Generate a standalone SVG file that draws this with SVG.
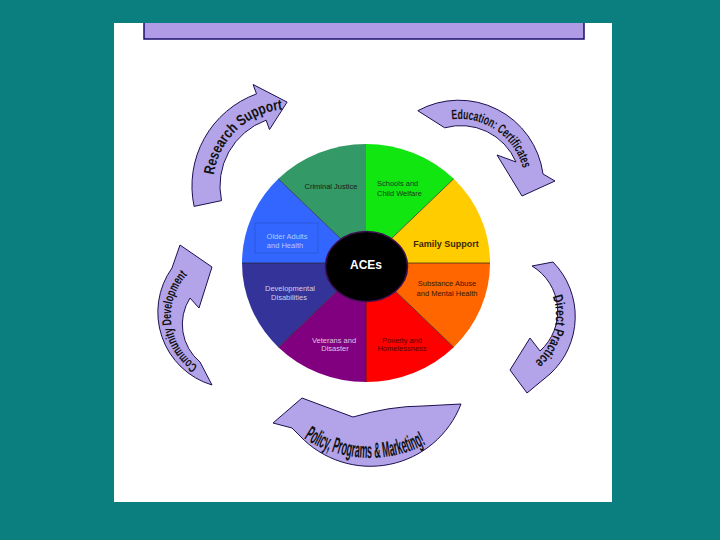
<svg xmlns="http://www.w3.org/2000/svg" width="720" height="540" viewBox="0 0 720 540">
<style>
.arrow{fill:#b3a4e9;stroke:#1c1050;stroke-width:1}
.atext{font-family:"Liberation Sans",Arial,sans-serif;font-weight:bold;fill:#111}
.rad{stroke:#222;stroke-width:0.7}
.lbl{font-family:"Liberation Sans",Arial,sans-serif;font-size:7.5px;text-anchor:middle}
.lbl-start{font-family:"Liberation Sans",Arial,sans-serif;font-size:7.5px;text-anchor:start}
</style>
<defs>
<path id="tp-rs" d="M213.4,177.9 A77,77 0 0 1 287.3,109.1"/>
<path id="tp-ec" d="M449.8,119.6 A66,66 0 0 1 524,173.5"/>
<path id="tp-dp" d="M552.4,295.5 A60,60 0 0 1 530.4,365.2"/>
<path id="tp-cd" d="M202.8,369 A60,60 0 0 1 194.1,268.7"/>
<path id="tp-pp" d="M300.6,436.1 A121,121 0 0 0 434.1,439.6"/>
</defs>
<rect x="0" y="0" width="720" height="540" fill="#0b7e80"/>
<rect x="114" y="23" width="498" height="479" fill="#ffffff"/>
<rect id="title-bar" x="144" y="12" width="440" height="27" fill="#b09ce6" stroke="#1a0e6e" stroke-width="1.5"/>
<rect x="0" y="0" width="720" height="23" fill="#0b7e80"/>

<g id="wheel">
<g id="seg-criminal-justice">
<path d="M366,263 L278.32,178.85 A124,119 0 0 1 366,144 Z" fill="#339966"/>
<text class="lbl" x="331" y="189" fill="#1a1a1a">Criminal Justice</text>
</g>
<g id="seg-schools">
<path d="M366,263 L366,144 A124,119 0 0 1 453.68,178.85 Z" fill="#11e611"/>
<text class="lbl-start" x="377" y="186" fill="#1a3a1a">Schools and</text>
<text class="lbl-start" x="377" y="196" fill="#1a3a1a">Child Welfare</text>
</g>
<g id="seg-family-support">
<path d="M366,263 L453.68,178.85 A124,119 0 0 1 490,263 Z" fill="#ffcc00"/>
<text x="446" y="247" font-family="Liberation Sans, Arial, sans-serif" font-size="9" font-weight="bold" text-anchor="middle" fill="#3a2a00">Family Support</text>
</g>
<g id="seg-substance">
<path d="M366,263 L490,263 A124,119 0 0 1 453.68,347.15 Z" fill="#ff6600"/>
<text class="lbl" x="447" y="286" fill="#3a1500">Substance Abuse</text>
<text class="lbl" x="447" y="295.5" fill="#3a1500">and Mental Health</text>
</g>
<g id="seg-poverty">
<path d="M366,263 L453.68,347.15 A124,119 0 0 1 366,382 Z" fill="#ff0000"/>
<text class="lbl" x="402" y="342.5" fill="#5a0000">Poverty and</text>
<text class="lbl" x="402" y="351" fill="#5a0000">Homelessness</text>
</g>
<g id="seg-veterans">
<path d="M366,263 L366,382 A124,119 0 0 1 278.32,347.15 Z" fill="#800080"/>
<text class="lbl" x="334" y="342.5" fill="#e0c4e0">Veterans and</text>
<text class="lbl" x="335" y="351" fill="#e0c4e0">Disaster</text>
</g>
<g id="seg-developmental">
<path d="M366,263 L278.32,347.15 A124,119 0 0 1 242,263 Z" fill="#333399"/>
<text class="lbl" x="290" y="291" fill="#cfcfe6">Developmental</text>
<text class="lbl" x="289" y="300" fill="#cfcfe6">Disabilities</text>
</g>
<g id="seg-older-adults">
<path d="M366,263 L242,263 A124,119 0 0 1 278.32,178.85 Z" fill="#3366ff"/>
<rect x="255" y="223" width="63" height="30" fill="none" stroke="#2a55d8" stroke-width="0.8"/>
<text class="lbl" x="287" y="239" fill="#b0c8ff">Older Adults</text>
<text class="lbl" x="285" y="247.5" fill="#b0c8ff">and Health</text>
</g>
<g id="wheel-lines">
<line class="rad" x1="366" y1="263" x2="278.32" y2="178.85"/>
<line class="rad" x1="366" y1="263" x2="453.68" y2="178.85"/>
<line class="rad" x1="366" y1="263" x2="490" y2="263"/>
<line class="rad" x1="366" y1="263" x2="453.68" y2="347.15"/>
<line class="rad" x1="366" y1="263" x2="366" y2="382"/>
<line class="rad" x1="366" y1="263" x2="278.32" y2="347.15"/>
<line class="rad" x1="366" y1="263" x2="242" y2="263"/>
</g>
<g id="aces">
<ellipse cx="366.5" cy="266.5" rx="41" ry="35" fill="#000000" stroke="#3c0f4f" stroke-width="1.5"/>
<text x="366" y="269" font-family="Liberation Sans, Arial, sans-serif" font-size="12" font-weight="bold" text-anchor="middle" fill="#ffffff">ACEs</text>
</g>
</g>

<g id="cycle-arrows">
<g id="arrow-research-support">
<path class="arrow" d="M194.1,206.4 A98,98 0 0 1 256.5,93.9 L253.1,84.5 L287.1,102.1 L269.5,129.6 L266.1,120.2 A70,70 0 0 0 221.5,200.6 Z"/>
<text class="atext" font-size="15"><textPath href="#tp-rs" startOffset="3" textLength="102" lengthAdjust="spacingAndGlyphs">Research Support</textPath></text>
</g>
<g id="arrow-education">
<path class="arrow" d="M417.8,110.7 A85,85 0 0 1 543,174 L555,181 L522,196 L497,155 L516,162 A60,60 0 0 0 444.7,127.8 Z"/>
<text class="atext" font-size="13.5"><textPath href="#tp-ec" startOffset="2" textLength="94" lengthAdjust="spacingAndGlyphs">Education: Certificates</textPath></text>
</g>
<g id="arrow-direct-practice">
<path class="arrow" d="M553,262 A78,78 0 0 1 550,374 L527,393 L510,370 L530,338 L540,351 A53,53 0 0 0 532,266 Z"/>
<text class="atext" font-size="14"><textPath href="#tp-dp" startOffset="1" textLength="72" lengthAdjust="spacingAndGlyphs">Direct Practice</textPath></text>
</g>
<g id="arrow-policy">
<path class="arrow" d="M461,404 A97,97 0 0 1 300,436 L292,428 L273,423 L302,398 L353,417 Q390,406 423,406 Z"/>
<text class="atext" font-size="22"><textPath href="#tp-pp" startOffset="4" textLength="128" lengthAdjust="spacingAndGlyphs">Policy, Programs &amp; Marketing!</textPath></text>
</g>
<g id="arrow-community">
<path class="arrow" d="M212,385 A76,76 0 0 1 172,268 L180,245 L212,267 L199,308 L190,298 A49,49 0 0 0 200,362 Z"/>
<text class="atext" font-size="13"><textPath href="#tp-cd" startOffset="6" textLength="104" lengthAdjust="spacingAndGlyphs">Community Development</textPath></text>
</g>
</g>
</svg>
